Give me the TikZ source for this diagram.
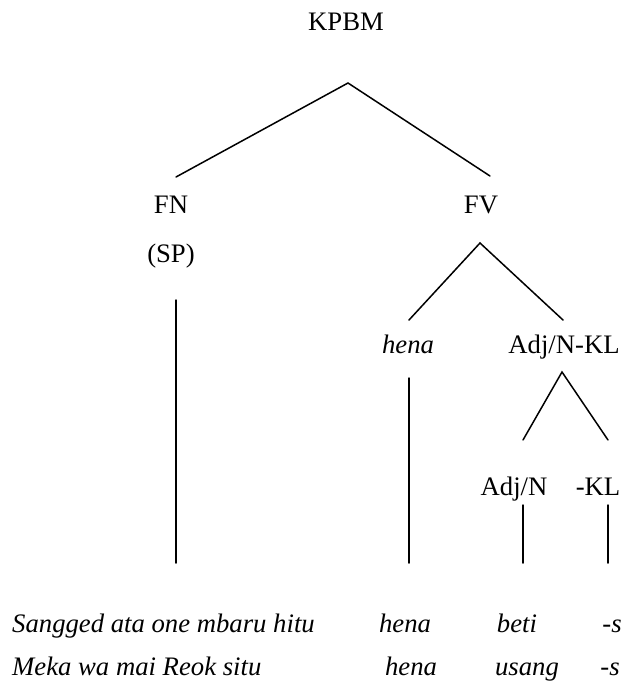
\documentclass[tikz,border=0pt]{standalone}
\usepackage{fontspec}
\setmainfont{Liberation Serif}
\begin{document}
\begin{tikzpicture}[x=1pt,y=-1pt,
  lbl/.style={anchor=base,inner sep=0pt,font=\fontsize{26.7}{32}\selectfont},
  ilbl/.style={anchor=base,inner sep=0pt,font=\fontsize{26.7}{32}\selectfont\itshape},
  lbll/.style={anchor=base west,inner sep=0pt,font=\fontsize{26.7}{32}\selectfont\itshape},
  br/.style={line width=1.5pt,line cap=round}]
\useasboundingbox (0,0) rectangle (625,683);
% labels
\node[lbl] (kpbm) at (346,30) {KPBM};
\node[lbl] (fn) at (171,213) {FN};
\node[lbl] (sp) at (171,262) {(SP)};
\node[lbl] (fv) at (481,213) {FV};
\node[ilbl] (hena) at (408,353) {hena};
\node[lbl] (adjnkl) at (564,353) {Adj/N-KL};
\node[lbl] (adjn) at (514,495) {Adj/N};
\node[lbl] (kl) at (598,495) {-KL};
% bottom rows
\node[lbll] (r1a) at (12,632) {Sangged ata one mbaru hitu};
\node[ilbl] (r1b) at (405,632) {hena};
\node[ilbl] (r1c) at (517,632) {beti};
\node[ilbl] (r1d) at (612,632) {-s};
\node[lbll] (r2a) at (12,675) {Meka wa mai Reok situ};
\node[ilbl] (r2b) at (411,675) {hena};
\node[ilbl] (r2c) at (527,675) {usang};
\node[ilbl] (r2d) at (610,675) {-s};
% branch points
\coordinate (a1) at (348,83);
\coordinate (fnT) at (176,177);
\coordinate (fvT) at (490,176);
\coordinate (a2) at (480,243);
\coordinate (henaT) at (409,320);
\coordinate (adjnklT) at (563,320);
\coordinate (a3) at (562,372);
\coordinate (adjnT) at (523,440);
\coordinate (klT) at (608,440);
\coordinate (fnL1) at (176,300);
\coordinate (fnL2) at (176,563);
\coordinate (henaL1) at (409,378);
\coordinate (henaL2) at (409,563);
\coordinate (adjnL1) at (523,505);
\coordinate (adjnL2) at (523,563);
\coordinate (klL1) at (608,505);
\coordinate (klL2) at (608,563);
\draw[br] (fnT) -- (a1) -- (fvT);
\draw[br] (henaT) -- (a2) -- (adjnklT);
\draw[br] (adjnT) -- (a3) -- (klT);
\draw[br] (fnL1) -- (fnL2);
\draw[br] (henaL1) -- (henaL2);
\draw[br] (adjnL1) -- (adjnL2);
\draw[br] (klL1) -- (klL2);
\end{tikzpicture}
\end{document}
